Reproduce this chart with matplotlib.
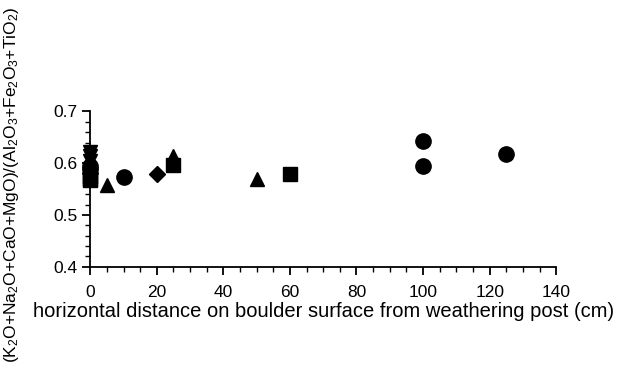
import matplotlib

matplotlib.use("Agg")
import matplotlib.pyplot as plt
from matplotlib.ticker import MultipleLocator

plt.rcParams.update({
    "font.family": "Liberation Sans",
    "mathtext.fontset": "custom",
    "mathtext.rm": "Liberation Sans",
    "mathtext.it": "Liberation Sans",
    "mathtext.default": "regular",
    "font.size": 12.5,
})

# samples grouped by marker (distance in cm, weathering ratio)
sq_x = [0, 0, 0, 25, 60]
sq_y = [0.575, 0.570, 0.567, 0.597, 0.579]
circ_x = [0, 0, 10, 100, 100, 125]
circ_y = [0.595, 0.588, 0.573, 0.643, 0.595, 0.618]
tri_x = [5, 25, 50]
tri_y = [0.557, 0.613, 0.569]
dtri_x = [0, 0, 0]
dtri_y = [0.622, 0.613, 0.604]
dia_x = [0, 20]
dia_y = [0.582, 0.580]

fig = plt.figure(figsize=(6.18, 3.69), dpi=100)
ax = fig.add_axes([0.146, 0.277, 0.754, 0.421])

kw = dict(color="black", linestyle="none", clip_on=False, zorder=3)
ax.plot(sq_x, sq_y, marker="s", markersize=10, **kw)
ax.plot(circ_x, circ_y, marker="o", markersize=11, **kw)
ax.plot(tri_x, tri_y, marker="^", markersize=10.5, **kw)
ax.plot(dtri_x, dtri_y, marker="v", markersize=10, **kw)
ax.plot(dia_x, dia_y, marker="D", markersize=8.5, **kw)

ax.set_xlim(0, 140)
ax.set_ylim(0.4, 0.7)
ax.xaxis.set_major_locator(MultipleLocator(20))
ax.xaxis.set_minor_locator(MultipleLocator(5))
ax.yaxis.set_major_locator(MultipleLocator(0.1))
ax.yaxis.set_minor_locator(MultipleLocator(0.02))
ax.tick_params(which="major", direction="out", length=6, width=1.3)
ax.tick_params(axis="x", which="major", pad=7)
ax.tick_params(axis="y", which="major", pad=3)
ax.tick_params(which="minor", direction="out", length=3.5, width=1.0)
ax.spines[["top", "right"]].set_visible(False)
ax.spines[["left", "bottom"]].set_linewidth(1.3)

ax.set_xlabel("horizontal distance on boulder surface from weathering post (cm)", fontsize=14.5)
ax.xaxis.set_label_coords(0.5, -0.225)
ax.set_ylabel("(K$_2$O+Na$_2$O+CaO+MgO)/(Al$_2$O$_3$+Fe$_2$O$_3$+TiO$_2$)", fontsize=12.5)
ax.yaxis.set_label_coords(-0.148, 0.53)

fig.savefig("out.png", dpi=100)
